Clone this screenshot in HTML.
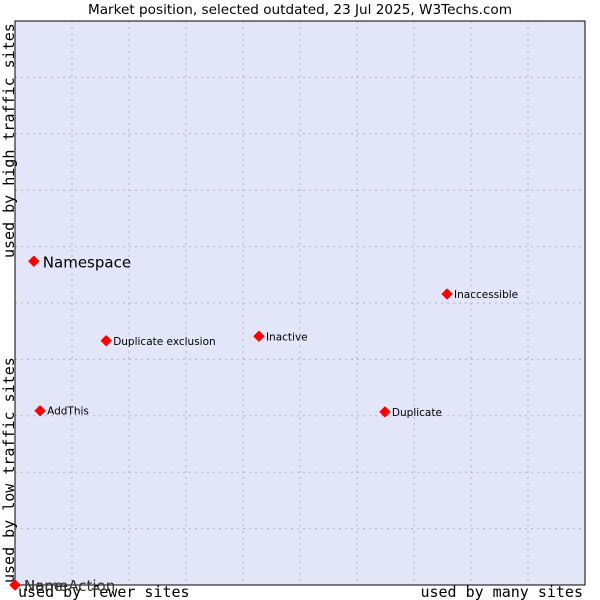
<!DOCTYPE html>
<html><head><meta charset="utf-8"><style>
body{margin:0;width:600px;height:600px;background:#fff;overflow:hidden}
svg{display:block}
</style></head><body>
<svg width="600" height="600">
<text x="300" y="14" text-anchor="middle" font-family="DejaVu Sans, sans-serif" font-size="13.6">Market position, selected outdated, 23 Jul 2025, W3Techs.com</text>
<rect x="15" y="21" width="570" height="564" fill="#e3e5f8"/>
<g id="grid"></g>
<rect x="15" y="21" width="570" height="564" fill="none" stroke="#000" stroke-width="1"/>
<text transform="translate(14,258) rotate(-90)" font-family="DejaVu Sans Mono, Liberation Mono, monospace" font-size="15">used by high traffic sites</text>
<text transform="translate(14,583) rotate(-90)" font-family="DejaVu Sans Mono, Liberation Mono, monospace" font-size="15">used by low traffic sites</text>
<text x="18" y="597" font-family="DejaVu Sans Mono, Liberation Mono, monospace" font-size="15">used by fewer sites</text>
<text x="583" y="597" text-anchor="end" font-family="DejaVu Sans Mono, Liberation Mono, monospace" font-size="15">used by many sites</text>
<g id="points"></g>
</svg>
<script>
const names=["Namespace","Inaccessible","Duplicate exclusion","Inactive","AddThis","Duplicate","None","NameAction"];
const xs=[3.3,75.8,16.0,42.8,4.4,64.9,0,0];
const ys=[57.4,51.6,43.3,44.1,30.9,30.7,0,0];
const big=[true,false,false,false,false,false,true,true];
const NS="http://www.w3.org/2000/svg";
const X=v=>15+v*5.7, Y=v=>585-v*5.64;
const grid=document.getElementById('grid');
for(let i=1;i<10;i++){
 const l=document.createElementNS(NS,'line');
 
 
 l.setAttribute('x1',X(i*10));l.setAttribute('x2',X(i*10));l.setAttribute('y1',21);l.setAttribute('y2',585);
 l.setAttribute('stroke','#b4b4b4');l.setAttribute('stroke-dasharray','2,4');grid.appendChild(l);
 const h=document.createElementNS(NS,'line');
 
 
 h.setAttribute('x1',15);h.setAttribute('x2',585);h.setAttribute('y1',Y(i*10));h.setAttribute('y2',Y(i*10));
 h.setAttribute('stroke','#b4b4b4');h.setAttribute('stroke-dasharray','2,4');grid.appendChild(h);
}
const pts=document.getElementById('points');
names.forEach((n,i)=>{
 const cx=X(xs[i]),cy=Y(ys[i]);
 const d=document.createElementNS(NS,'polygon');
 
 
 d.setAttribute('points',`${cx},${cy-5} ${cx+5},${cy} ${cx},${cy+5} ${cx-5},${cy}`);
 d.setAttribute('fill','#f00');d.setAttribute('stroke','#f00');d.setAttribute('stroke-linejoin','round');
 pts.appendChild(d);
 const t=document.createElementNS(NS,'text');
 
 
 t.setAttribute('x',cx+(big[i]?9:7));t.setAttribute('y',cy+(big[i]?6:4));
 t.setAttribute('font-family','DejaVu Sans, sans-serif');
 t.setAttribute('font-size',big[i]?15:10.5);
 if(i>=6)t.setAttribute('fill','#333');
 t.textContent=n;pts.appendChild(t);
});
</script>
</body></html>
